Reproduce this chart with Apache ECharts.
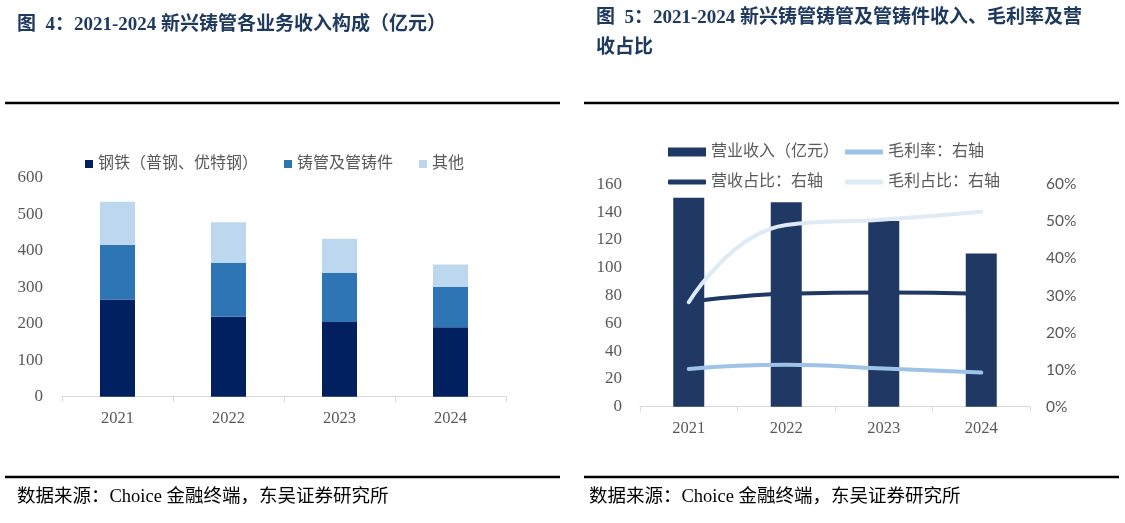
<!DOCTYPE html>
<html>
<head>
<meta charset="utf-8">
<script src="https://cdn.jsdelivr.net/npm/echarts@6/dist/echarts.min.js"></script>
<style>
html,body{margin:0;padding:0;background:#fff;}
#main{width:1125px;height:523px;}
</style>
</head>
<body>
<div id="main"></div>
<script>
// ---- Data ----
var categories = ['2021', '2022', '2023', '2024'];
// Left chart: revenue by business (亿元)
var steelRevenue = [266, 219, 205, 190];     // 钢铁（普钢、优特钢）
var pipeRevenueStack = [150, 147, 134, 111]; // 铸管及管铸件
var otherRevenue = [118, 112, 94, 61];       // 其他
// Right chart
var pipeRevenue = [150.4, 147.0, 133.6, 110.2];     // 营业收入（亿元）
var grossMargin = [0.102, 0.113, 0.103, 0.092];      // 毛利率
var revenueShare = [0.282, 0.305, 0.308, 0.305];     // 营收占比
var profitShare = [0.282, 0.490, 0.505, 0.526];      // 毛利占比

var serifFont = "'Liberation Serif', 'Noto Sans CJK SC', serif";
var cjkFont = "'Liberation Serif', 'Noto Sans CJK SC', serif";
var titleColor = '#1F3A60';
var labelColor = '#595959';
var axisColor = '#D9D9D9';

var chart = echarts.init(document.getElementById('main'));

function xAxisCfg(gi) {
  return {
    type: 'category', gridIndex: gi, data: categories,
    axisLine: { lineStyle: { color: axisColor, width: 1 } },
    axisTick: { show: true, length: 5, lineStyle: { color: axisColor } },
    axisLabel: { fontSize: 16.5, color: labelColor, fontFamily: serifFont, margin: 14 }
  };
}

function lineSeries(name, data, color) {
  return {
    name: name, type: 'line', xAxisIndex: 1, yAxisIndex: 2, data: data,
    smooth: true, symbol: 'none', z: 5,
    itemStyle: { color: color },
    lineStyle: { color: color, width: 4, cap: 'round' }
  };
}

var legendText = { fontSize: 16, color: labelColor, fontFamily: cjkFont };

var option = {
  animation: false,
  backgroundColor: '#fff',
  graphic: [
    { type: 'text', x: 17, y: 25, style: { text: '图  4：2021-2024 新兴铸管各业务收入构成（亿元）', fontSize: 19, fontWeight: 'bold', fontFamily: cjkFont, fill: titleColor, verticalAlign: 'middle' } },
    { type: 'text', x: 596, y: 18, style: { text: '图  5：2021-2024 新兴铸管铸管及管铸件收入、毛利率及营', fontSize: 19, fontWeight: 'bold', fontFamily: cjkFont, fill: titleColor, verticalAlign: 'middle' } },
    { type: 'text', x: 596, y: 48, style: { text: '收占比', fontSize: 19, fontWeight: 'bold', fontFamily: cjkFont, fill: titleColor, verticalAlign: 'middle' } },
    { type: 'line', shape: { x1: 5, y1: 103, x2: 560, y2: 103 }, style: { stroke: '#000', lineWidth: 2.5 } },
    { type: 'line', shape: { x1: 584, y1: 103, x2: 1119, y2: 103 }, style: { stroke: '#000', lineWidth: 2.5 } },
    { type: 'line', shape: { x1: 5, y1: 477, x2: 560, y2: 477 }, style: { stroke: '#000', lineWidth: 2.5 } },
    { type: 'line', shape: { x1: 584, y1: 477, x2: 1119, y2: 477 }, style: { stroke: '#000', lineWidth: 2.5 } },
    { type: 'text', x: 17, y: 497, style: { text: '数据来源：Choice 金融终端，东吴证券研究所', fontSize: 18.5, fontFamily: cjkFont, fill: '#000', verticalAlign: 'middle' } },
    { type: 'text', x: 589, y: 497, style: { text: '数据来源：Choice 金融终端，东吴证券研究所', fontSize: 18.5, fontFamily: cjkFont, fill: '#000', verticalAlign: 'middle' } }
  ],
  legend: [
    { data: ['钢铁（普钢、优特钢）', '铸管及管铸件', '其他'], left: 80, top: 151, icon: 'rect', itemWidth: 8, itemHeight: 8, itemGap: 26, textStyle: legendText },
    { data: ['营业收入（亿元）'], left: 663, top: 139, icon: 'rect', itemWidth: 38, itemHeight: 9, textStyle: legendText },
    { data: ['毛利率：右轴'], left: 840, top: 139, icon: 'roundRect', itemWidth: 38, itemHeight: 5, textStyle: legendText },
    { data: ['营收占比：右轴'], left: 663, top: 169, icon: 'roundRect', itemWidth: 38, itemHeight: 5, textStyle: legendText },
    { data: ['毛利占比：右轴'], left: 840, top: 169, icon: 'roundRect', itemWidth: 38, itemHeight: 5, textStyle: legendText }
  ],
  grid: [
    { left: 62, right: 619, top: 177.7, bottom: 126.3 },
    { left: 640, right: 95, top: 184.3, bottom: 116.3 }
  ],
  xAxis: [xAxisCfg(0), xAxisCfg(1)],
  yAxis: [
    { type: 'value', gridIndex: 0, min: 0, max: 600, interval: 100,
      axisLine: { show: false }, axisTick: { show: false }, splitLine: { show: false },
      axisLabel: { fontSize: 17, color: labelColor, fontFamily: serifFont, margin: 19 } },
    { type: 'value', gridIndex: 1, min: 0, max: 160, interval: 20,
      axisLine: { show: false }, axisTick: { show: false }, splitLine: { show: false },
      axisLabel: { fontSize: 17, color: labelColor, fontFamily: serifFont, margin: 18 } },
    { type: 'value', gridIndex: 1, position: 'right', min: 0, max: 0.6, interval: 0.1,
      axisLine: { show: false }, axisTick: { show: false }, splitLine: { show: false },
      axisLabel: { fontSize: 15.5, color: labelColor, fontFamily: "'Lato', 'Liberation Sans', sans-serif", margin: 16,
        formatter: function (v) { return Math.round(v * 100) + '%'; } } }
  ],
  series: [
    { name: '钢铁（普钢、优特钢）', type: 'bar', stack: 'a', xAxisIndex: 0, yAxisIndex: 0, barWidth: 35, data: steelRevenue, itemStyle: { color: '#002060' } },
    { name: '铸管及管铸件', type: 'bar', stack: 'a', xAxisIndex: 0, yAxisIndex: 0, barWidth: 35, data: pipeRevenueStack, itemStyle: { color: '#2E75B6' } },
    { name: '其他', type: 'bar', stack: 'a', xAxisIndex: 0, yAxisIndex: 0, barWidth: 35, data: otherRevenue, itemStyle: { color: '#BDD7EE' } },
    { name: '营业收入（亿元）', type: 'bar', xAxisIndex: 1, yAxisIndex: 1, barWidth: 31, data: pipeRevenue, itemStyle: { color: '#203864' } },
    lineSeries('毛利率：右轴', grossMargin, '#9DC3E6'),
    lineSeries('营收占比：右轴', revenueShare, '#203864'),
    lineSeries('毛利占比：右轴', profitShare, '#DEEBF7')
  ]
};
chart.setOption(option);
</script>
</body>
</html>
